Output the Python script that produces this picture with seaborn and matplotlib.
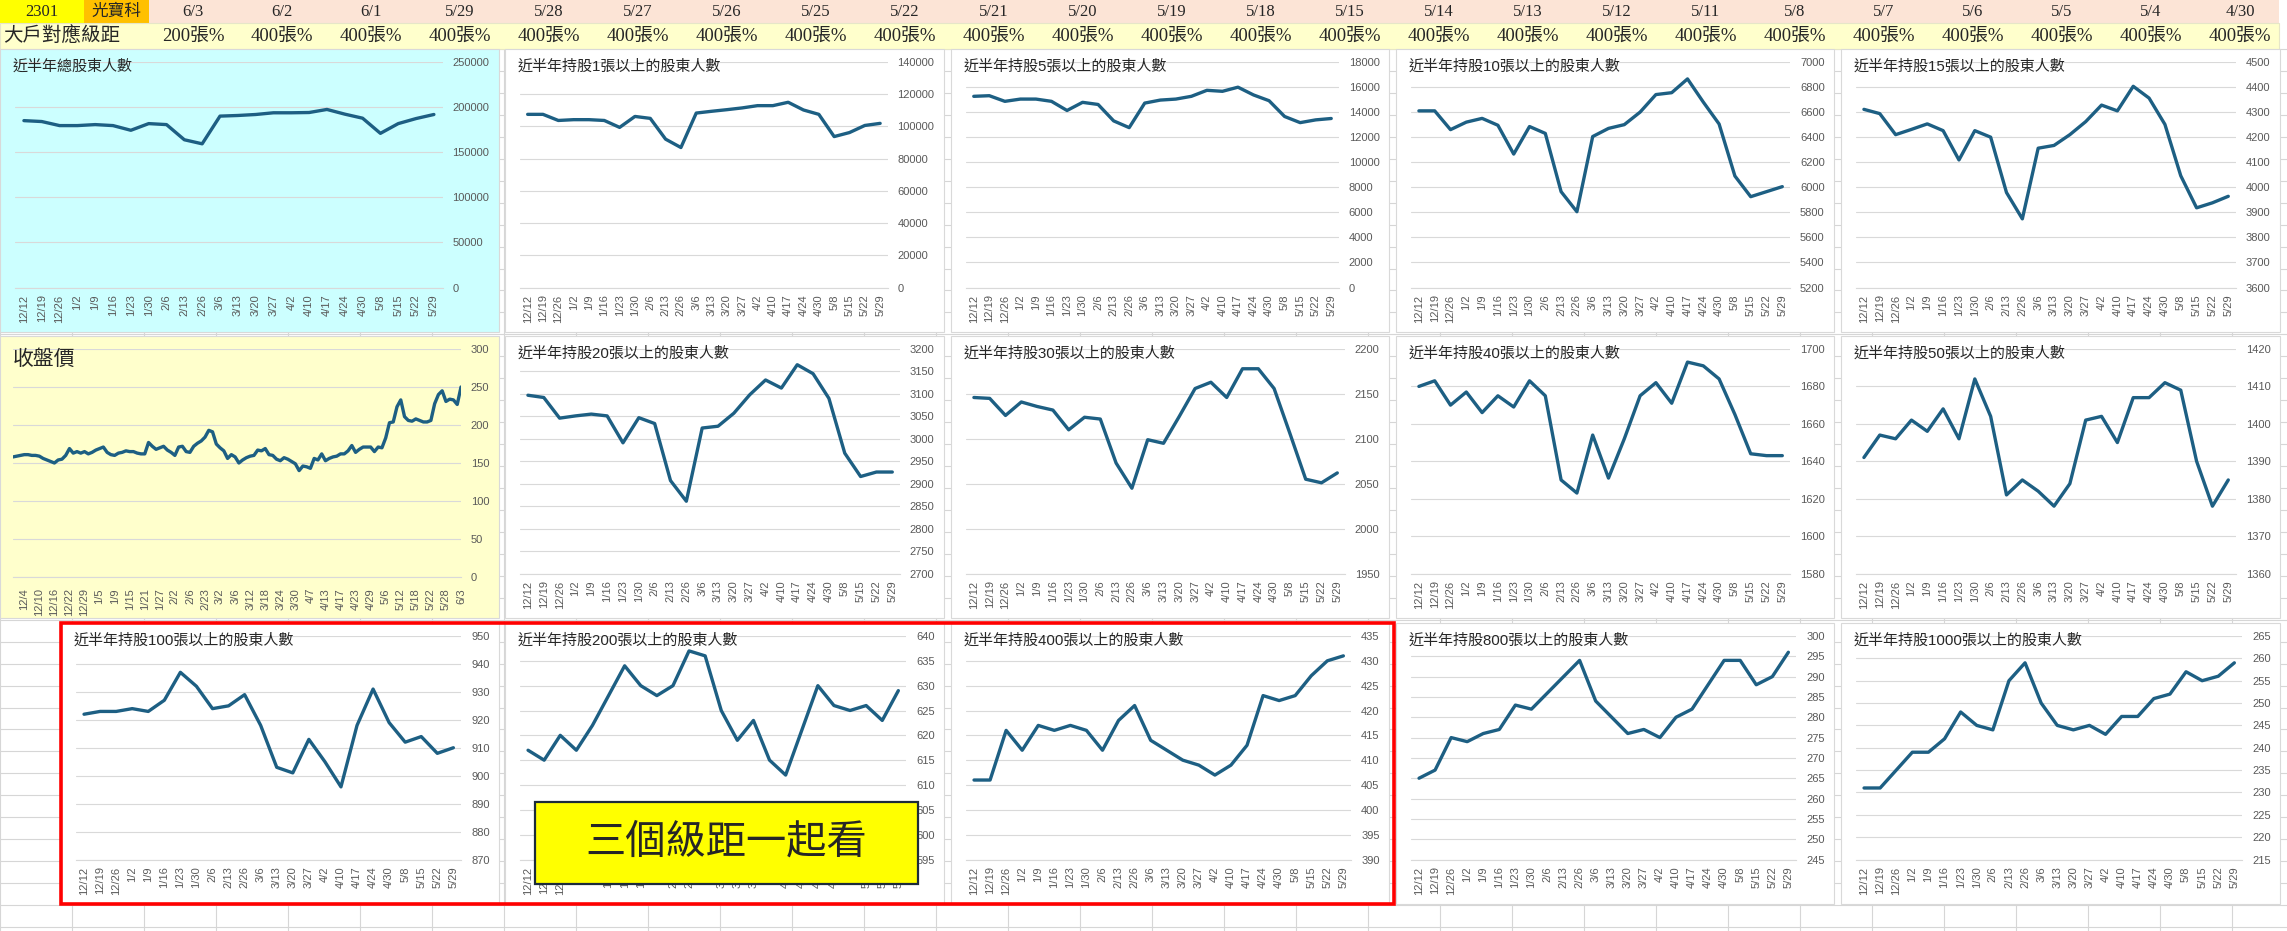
import matplotlib
matplotlib.use("Agg")
import matplotlib.pyplot as plt
from matplotlib.patches import Rectangle
import numpy as np
import seaborn as sns

# ---- data ----
stock_code = "2301"
stock_name = "光寶科"
header_dates = ["6/3", "6/2", "6/1", "5/29", "5/28", "5/27", "5/26", "5/25", "5/22", "5/21",
                "5/20", "5/19", "5/18", "5/15", "5/14", "5/13", "5/12", "5/11", "5/8", "5/7",
                "5/6", "5/5", "5/4", "4/30"]
header_levels = ["200張%"] + ["400張%"] * 23

week_labels = ["12/12", "12/19", "12/26", "1/2", "1/9", "1/16", "1/23", "1/30", "2/6", "2/13",
               "2/26", "3/6", "3/13", "3/20", "3/27", "4/2", "4/10", "4/17", "4/24", "4/30",
               "5/8", "5/15", "5/22", "5/29"]

total_holders = [185000, 184000, 179500, 179500, 180600, 179500, 174300, 181700, 180600, 163800,
                 159300, 190000, 190700, 191800, 193700, 193700, 194000, 197400, 192200, 187700,
                 170900, 181700, 187300, 191800]
hold_1 = [107500, 107500, 103700, 104200, 104200, 103700, 99400, 106200, 105000, 92100,
          86900, 108300, 109400, 110400, 111500, 112900, 112900, 115000, 110200, 107500,
          93700, 96200, 100600, 101900]
hold_5 = [15260, 15310, 14860, 15040, 15040, 14860, 14130, 14780, 14610, 13300,
          12760, 14720, 14960, 15040, 15260, 15740, 15660, 15990, 15370, 14910,
          13650, 13160, 13380, 13490]
hold_10 = [6610, 6610, 6460, 6520, 6550, 6495, 6265, 6485, 6430, 5965,
           5805, 6405, 6470, 6500, 6600, 6740, 6755, 6865, 6680, 6505,
           6090, 5925, 5965, 6005]
hold_15 = [4311, 4294, 4210, 4231, 4253, 4226, 4109, 4226, 4200, 3979,
           3874, 4156, 4167, 4210, 4262, 4328, 4305, 4403, 4356, 4251,
           4046, 3918, 3938, 3964]
hold_20 = [3097, 3092, 3046, 3051, 3055, 3051, 2991, 3047, 3034, 2907,
           2861, 3024, 3028, 3057, 3098, 3131, 3113, 3165, 3145, 3090,
           2968, 2916, 2926, 2926]
hold_30 = [2146, 2145, 2126, 2141, 2136, 2132, 2110, 2124, 2122, 2073,
           2045, 2099, 2095, 2125, 2156, 2163, 2146, 2178, 2178, 2156,
           2106, 2055, 2051, 2062]
hold_40 = [1680, 1683, 1670, 1677, 1666, 1675, 1669, 1683, 1675, 1630,
           1623, 1654, 1631, 1652, 1675, 1682, 1671, 1693, 1691, 1684,
           1665, 1644, 1643, 1643]
hold_50 = [1391, 1397, 1396, 1401, 1398, 1404, 1396, 1412, 1402, 1381,
           1385, 1382, 1378, 1384, 1401, 1402, 1395, 1407, 1407, 1411,
           1409, 1390, 1378, 1385]
hold_100 = [922, 923, 923, 924, 923, 927, 937, 932, 924, 925,
            929, 918, 903, 901, 913, 905, 896, 918, 931, 919,
            912, 914, 908, 910]
hold_200 = [617, 615, 620, 617, 622, 628, 634, 630, 628, 630,
            637, 636, 625, 619, 623, 615, 612, 621, 630, 626,
            625, 626, 623, 629]
hold_400 = [406, 406, 416, 412, 417, 416, 417, 416, 412, 418,
            421, 414, 412, 410, 409, 407, 409, 413, 423, 422,
            423, 427, 430, 431]
hold_800 = [265, 267, 275, 274, 276, 277, 283, 282, 286, 290,
            294, 284, 280, 276, 277, 275, 280, 282, 288, 294,
            294, 288, 290, 296]
hold_1000 = [231, 231, 235, 239, 239, 242, 248, 245, 244, 255,
             259, 250, 245, 244, 245, 243, 247, 247, 251, 252,
             257, 255, 256, 259]

# daily close, 12/1 .. 6/3
close_price = [158, 159, 160, 161, 161, 160, 160, 159, 156, 154,
               152, 150, 154, 155, 160, 169, 163, 165, 163, 165,
               162, 164, 167, 169, 171, 164, 161, 160, 163, 164,
               166, 165, 165, 163, 162, 162, 177, 172, 168, 170,
               172, 167, 164, 160, 171, 172, 165, 164, 172, 176,
               179, 184, 193, 191, 175, 170, 166, 156, 161, 158,
               150, 154, 157, 159, 160, 167, 166, 169, 161, 160,
               155, 153, 157, 155, 152, 149, 140, 146, 145, 143,
               156, 154, 162, 153, 156, 158, 159, 162, 162, 166,
               173, 164, 168, 171, 171, 171, 165, 171, 170, 183,
               203, 204, 224, 233, 211, 206, 205, 208, 206, 204,
               204, 206, 228, 240, 245, 231, 234, 233, 227, 250]
close_tick_labels = ["12/4", "12/10", "12/16", "12/22", "12/29", "1/5", "1/9", "1/15", "1/21", "1/27",
                     "2/2", "2/6", "2/23", "3/2", "3/6", "3/12", "3/18", "3/24", "3/30", "4/7",
                     "4/13", "4/17", "4/23", "4/29", "5/6", "5/12", "5/18", "5/22", "5/28", "6/3"]

# ---- style ----
W, H = 2287, 931
LINE = "#1d5f83"
GRID = "#d9d9d9"
TXT = "#595959"
sns.set_style("white")
plt.rcParams['font.family'] = ['Liberation Sans', 'Noto Sans CJK TC', 'DejaVu Sans']
SERIF = ['Liberation Serif', 'Noto Sans CJK TC', 'DejaVu Sans']

fig = plt.figure(figsize=(W / 100, H / 100), dpi=100)
fig.patch.set_facecolor("white")


def frac(x0, y0, x1, y1):
    return [x0 / W, 1 - y1 / H, (x1 - x0) / W, (y1 - y0) / H]


bg = fig.add_axes([0, 0, 1, 1])
bg.set_xlim(0, W)
bg.set_ylim(H, 0)
bg.axis("off")

# excel cell grid behind everything
for gx in range(0, W, 72):
    bg.plot([gx, gx], [49, H], color="#d6d6d6", lw=0.8, zorder=0)
for gy in np.arange(49, H, 21.95):
    bg.plot([0, W], [gy, gy], color="#d6d6d6", lw=0.8, zorder=0)

# header rows
bg.add_patch(Rectangle((0, 0), 2279, 23, facecolor="#fce4d6", lw=0, zorder=1))
bg.add_patch(Rectangle((0, 0), 84, 23, facecolor="#ffff00", lw=0, zorder=1))
bg.add_patch(Rectangle((84, 0), 65, 23, facecolor="#ffc000", lw=0, zorder=1))
bg.add_patch(Rectangle((0, 23), 2279, 26, facecolor="#ffffcc", edgecolor="#e6e6c8", lw=0.8, zorder=1))
bg.text(42, 12, stock_code, ha="center", va="center", fontsize=12, family=SERIF, zorder=2)
bg.text(116, 12, stock_name, ha="center", va="center", fontsize=12, family=SERIF, zorder=2)
bg.text(3, 36, "大戶對應級距", ha="left", va="center", fontsize=14, family=SERIF, zorder=2)
for k, (d, lv) in enumerate(zip(header_dates, header_levels)):
    cx = 193 + 89 * k
    bg.text(cx, 12, d, ha="center", va="center", fontsize=12, family=SERIF, zorder=2)
    bg.text(cx, 36, lv, ha="center", va="center", fontsize=13.5, family=SERIF, zorder=2)

col_x = [(0, 499), (505, 944), (951, 1389), (1396, 1834), (1841, 2280)]
row_y = [(49, 332), (336, 618), (623, 904)]


def style_axis(ax, yticks):
    ax.patch.set_alpha(0)
    ax.set_yticks(yticks)
    ax.set_yticklabels([str(int(t)) for t in yticks])
    ax.yaxis.tick_right()
    ax.tick_params(axis="y", length=0, pad=7, labelsize=8, labelcolor=TXT)
    ax.grid(axis="y", color=GRID, lw=0.8)
    ax.grid(axis="x", visible=False)
    ax.set_axisbelow(True)
    for s in ["left", "right", "top"]:
        ax.spines[s].set_visible(False)
    ax.spines["bottom"].set_color(GRID)
    ax.spines["bottom"].set_linewidth(0.8)
    ax.set_xlabel("")
    ax.set_ylabel("")


def panel(x0, x1, y0, y1, title, values, lo, hi, step, face="white"):
    bg.add_patch(Rectangle((x0, y0), x1 - x0, y1 - y0, facecolor=face, edgecolor=GRID, lw=0.8, zorder=1))
    nchar = max(len(str(lo)), len(str(hi)))
    right = x1 - 19 - 6.2 * nchar
    ax = fig.add_axes(frac(x0 + 15, y0 + 13, right, y1 - 44.5))
    n = len(week_labels)
    sns.lineplot(x=np.arange(n), y=values, ax=ax, color=LINE, lw=2.4, sort=False)
    ax.set_xlim(-0.5, n - 0.5)
    ax.set_ylim(lo, hi)
    style_axis(ax, np.arange(lo, hi + step / 2, step))
    ax.set_xticks(np.arange(n))
    ax.set_xticklabels(week_labels, rotation=90, fontsize=8, color=TXT)
    ax.set_xticks(np.arange(-0.5, n, 1), minor=True)
    ax.tick_params(axis="x", which="major", length=0, pad=5)
    ax.tick_params(axis="x", which="minor", length=4, width=0.8, color="#bfbfbf", direction="out")
    fig.text((x0 + 13) / W, 1 - (y0 + 18) / H, title, ha="left", va="center", fontsize=10.8)
    return ax


panels = [
    (0, 0, "近半年總股東人數", total_holders, 0, 250000, 50000, "#ccffff"),
    (0, 1, "近半年持股1張以上的股東人數", hold_1, 0, 140000, 20000, "white"),
    (0, 2, "近半年持股5張以上的股東人數", hold_5, 0, 18000, 2000, "white"),
    (0, 3, "近半年持股10張以上的股東人數", hold_10, 5200, 7000, 200, "white"),
    (0, 4, "近半年持股15張以上的股東人數", hold_15, 3600, 4500, 100, "white"),
    (1, 1, "近半年持股20張以上的股東人數", hold_20, 2700, 3200, 50, "white"),
    (1, 2, "近半年持股30張以上的股東人數", hold_30, 1950, 2200, 50, "white"),
    (1, 3, "近半年持股40張以上的股東人數", hold_40, 1580, 1700, 20, "white"),
    (1, 4, "近半年持股50張以上的股東人數", hold_50, 1360, 1420, 10, "white"),
    (2, 0, "近半年持股100張以上的股東人數", hold_100, 870, 950, 10, "white"),
    (2, 1, "近半年持股200張以上的股東人數", hold_200, 595, 640, 5, "white"),
    (2, 2, "近半年持股400張以上的股東人數", hold_400, 390, 435, 5, "white"),
    (2, 3, "近半年持股800張以上的股東人數", hold_800, 245, 300, 5, "white"),
    (2, 4, "近半年持股1000張以上的股東人數", hold_1000, 215, 265, 5, "white"),
]
for r, c, title, vals, lo, hi, step, face in panels:
    x0, x1 = col_x[c]
    if r == 2 and c == 0:
        x0 = 61
    y0, y1 = row_y[r]
    panel(x0, x1, y0, y1, title, vals, lo, hi, step, face)

# daily close price panel
x0, x1 = col_x[0]
y0, y1 = row_y[1]
bg.add_patch(Rectangle((x0, y0), x1 - x0, y1 - y0, facecolor="#ffffcc", edgecolor=GRID, lw=0.8, zorder=1))
axp = fig.add_axes(frac(x0 + 13, y0 + 13, x1 - 38, y1 - 41))
nd = len(close_price)
sns.lineplot(x=np.arange(nd), y=close_price, ax=axp, color=LINE, lw=2.4, sort=False)
axp.set_xlim(0, nd - 1)
axp.set_ylim(0, 300)
style_axis(axp, np.arange(0, 301, 50))
tick_pos = np.arange(nd - 1 - 4 * (len(close_tick_labels) - 1), nd, 4)
axp.set_xticks(tick_pos)
axp.set_xticklabels(close_tick_labels, rotation=90, fontsize=8, color=TXT)
axp.set_xticks(np.arange(0, nd, 1), minor=True)
axp.tick_params(axis="x", which="major", length=4, width=0.8, color="#bfbfbf", pad=4)
axp.tick_params(axis="x", which="minor", length=3, width=0.6, color="#bfbfbf")
fig.text((x0 + 13) / W, 1 - (y0 + 23) / H, "收盤價", ha="left", va="center", fontsize=15)

# overlay: red frame and yellow note
ov = fig.add_axes([0, 0, 1, 1])
ov.set_xlim(0, W)
ov.set_ylim(H, 0)
ov.axis("off")
ov.patch.set_alpha(0)
ov.add_patch(Rectangle((61, 623), 1394 - 61, 904 - 623, fill=False, edgecolor="#ff0000", lw=2.6))
ov.add_patch(Rectangle((535, 802), 918 - 535, 884 - 802, facecolor="#ffff00", edgecolor="#1c2b3a", lw=1.6))
ov.text(726, 843, "三個級距一起看", ha="center", va="center", fontsize=29)

fig.savefig("out.png", dpi=100)
